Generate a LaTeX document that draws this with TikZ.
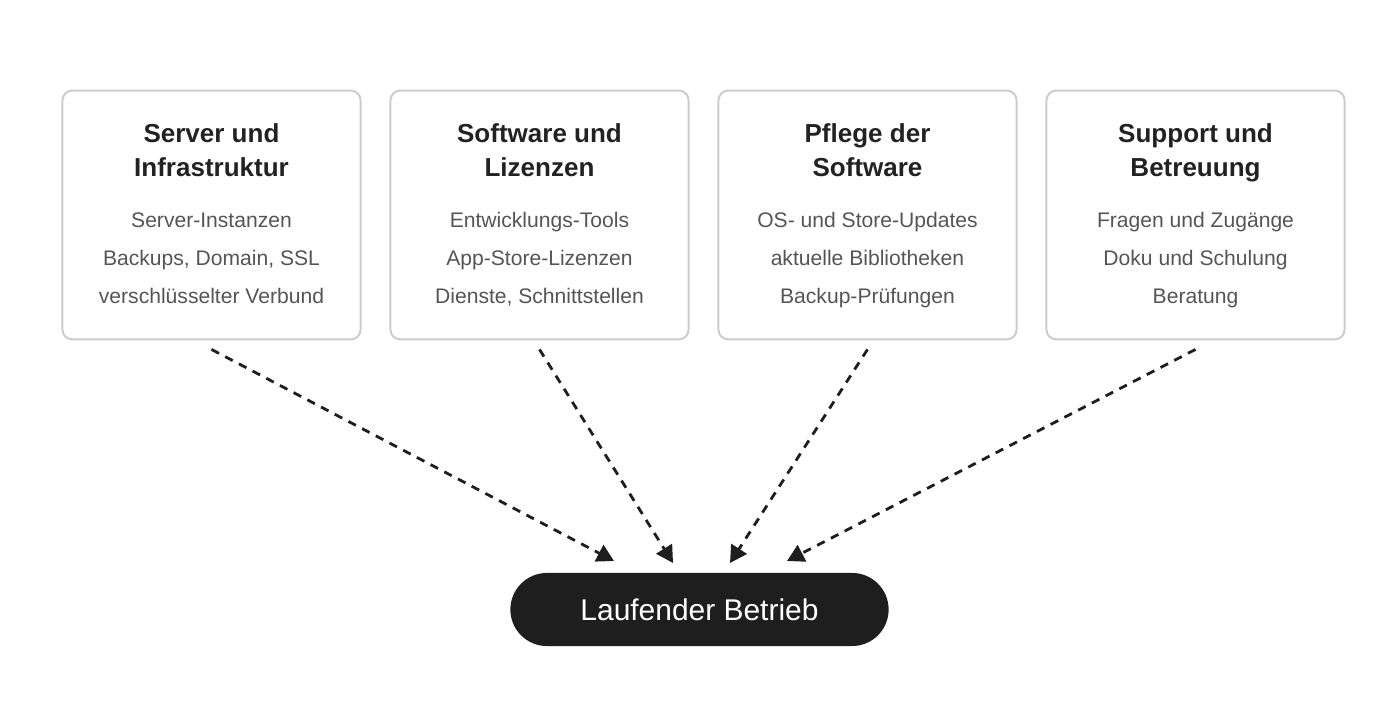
\documentclass[tikz,border=0pt]{standalone}
\usepackage{fontspec}
\setmainfont{Liberation Sans}
\usetikzlibrary{arrows.meta}
\definecolor{boxline}{HTML}{CCCCCC}
\definecolor{titletext}{HTML}{222222}
\definecolor{bodytext}{HTML}{555555}
\definecolor{pillfill}{HTML}{1E1E1E}
\tikzstyle{card} =[rectangle, rounded corners=7pt, draw=boxline, line width=1.4pt, minimum width=212pt, minimum height=177pt]
\tikzstyle{title} =[align=center, text=titletext, anchor=base, font=\fontsize{18.5}{24.5}\selectfont\bfseries]
\tikzstyle{body} =[align=center, text=bodytext, anchor=base, font=\fontsize{15}{27}\selectfont]
\tikzstyle{pill} =[rectangle, rounded corners=26pt, fill=pillfill, text=white, minimum width=269pt, minimum height=52pt, font=\fontsize{21.3}{24}\selectfont]
\tikzstyle{arrow} =[line width=2pt, dash pattern=on 6pt off 5pt, -{Triangle[length=12pt,width=13pt]}, color=pillfill]

\begin{document}
\begin{tikzpicture}[x=0.025cm, y=-0.025cm]
\useasboundingbox (0,0) rectangle (1400,720);
\node (srv) [card] at (211.5,215) {};
\node (sw) [card] at (539.5,215) {};
\node (pfl) [card] at (867.5,215) {};
\node (sup) [card] at (1195.5,215) {};

\node [title] at (211.5,176.5) {Server und\\Infrastruktur};
\node [title] at (539.5,176.5) {Software und\\Lizenzen};
\node [title] at (867.5,176.5) {Pflege der\\Software};
\node [title] at (1195.5,176.5) {Support und\\Betreuung};

\node [body] at (211.5,303.5) {Server-Instanzen\\Backups, Domain, SSL\\verschlüsselter Verbund};
\node [body] at (539.5,303.5) {Entwicklungs-Tools\\App-Store-Lizenzen\\Dienste, Schnittstellen};
\node [body] at (867.5,303.5) {OS- und Store-Updates\\aktuelle Bibliotheken\\Backup-Prüfungen};
\node [body] at (1195.5,303.5) {Fragen und Zugänge\\Doku und Schulung\\Beratung};

\node (run) [pill] at (699.5,609.5) {Laufender Betrieb};

\coordinate (in1) at (614,561);
\coordinate (in2) at (673,563);
\coordinate (in3) at (730,563);
\coordinate (in4) at (787,561);

\draw [arrow] (srv.south)++(0,9) -- (in1);
\draw [arrow] (sw.south)++(0,9) -- (in2);
\draw [arrow] (pfl.south)++(0,9) -- (in3);
\draw [arrow] (sup.south)++(0,9) -- (in4);
\end{tikzpicture}
\end{document}
